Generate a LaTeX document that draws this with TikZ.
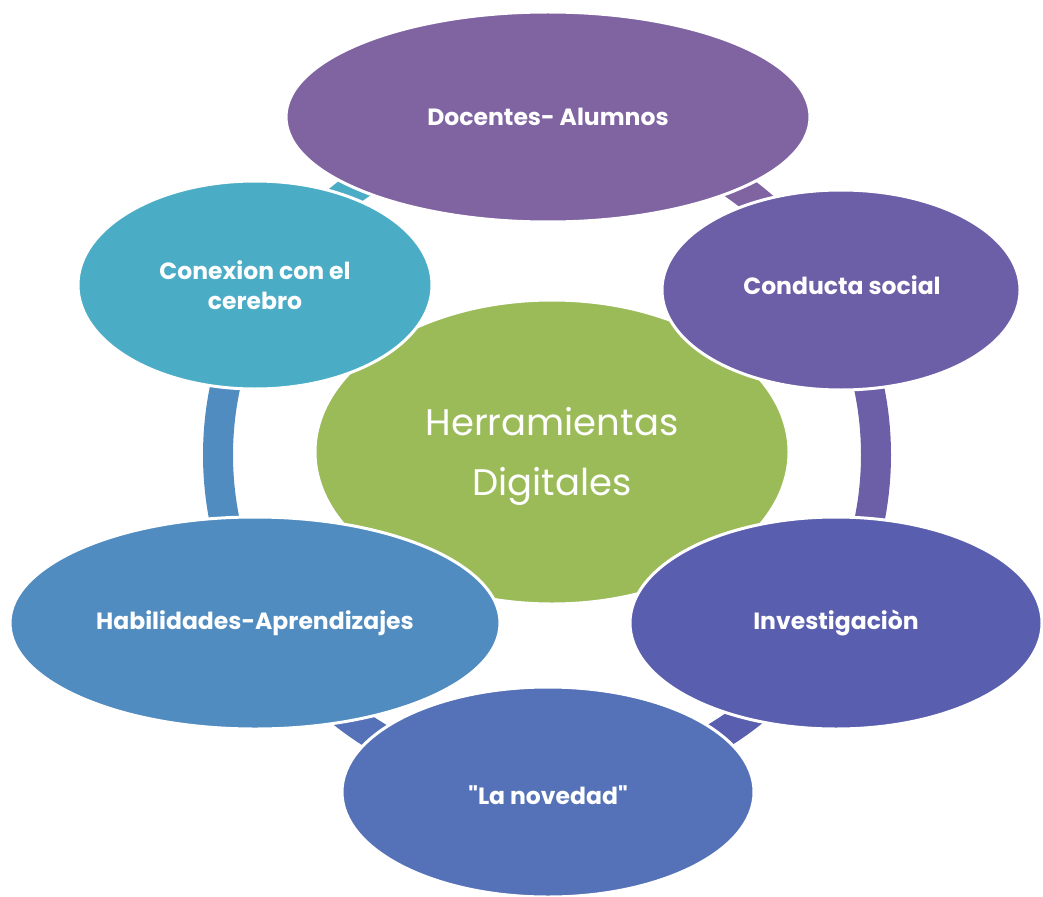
\documentclass[tikz,border=0pt]{standalone}
\usepackage{fontspec}
\setmainfont{Poppins}
\newfontfamily\rawfont{Poppins}
\usetikzlibrary{shapes.geometric}
\definecolor{cgreen}{HTML}{9BBB59}
\definecolor{cdoc}{HTML}{8064A2}
\definecolor{ccond}{HTML}{6C5FA7}
\definecolor{cinv}{HTML}{5A5EAE}
\definecolor{cnov}{HTML}{5572B8}
\definecolor{chab}{HTML}{508CC0}
\definecolor{ccon}{HTML}{4BACC6}
\tikzset{
  lbl/.style={text=white, font=\fontsize{23.5}{30}\selectfont\bfseries, align=center},
  blob/.style={ellipse, draw=white, line width=3pt, inner sep=0pt, lbl},
  ringseg/.style={line width=30pt, line cap=butt},
}
\begin{document}
\begin{tikzpicture}[x=1pt,y=-1pt]
\useasboundingbox (0,0) rectangle (1043,896);
\coordinate (c) at (547,455);
% ring segments (drawn behind)
\draw[ringseg, cdoc]  ([shift={(-90:329)}]c) arc[start angle=-90, end angle=-30, radius=329];
\draw[ringseg, ccond] ([shift={(-30:329)}]c) arc[start angle=-30, end angle=30, radius=329];
\draw[ringseg, cinv]  ([shift={(30:329)}]c) arc[start angle=30, end angle=90, radius=329];
\draw[ringseg, cnov]  ([shift={(90:329)}]c) arc[start angle=90, end angle=150, radius=329];
\draw[ringseg, chab]  ([shift={(150:329)}]c) arc[start angle=150, end angle=210, radius=329];
\draw[ringseg, ccon]  ([shift={(210:329)}]c) arc[start angle=210, end angle=270, radius=329];
% centre
\node[blob, fill=cgreen, minimum width=474pt, minimum height=304pt] (center) at (552,452) {};
\node[text=white, font=\fontsize{37}{60}\selectfont, align=center] (centert) at (552,456) {Herramientas\\Digitales};
% outer nodes
\node[blob, fill=cdoc,  minimum width=524pt, minimum height=210pt] (doc) at (548,117) {Docentes-\ Alumnos};
\node[blob, fill=ccond, minimum width=358pt, minimum height=200pt] (cond) at (841,290) {};
\node[lbl] (condt) at (842,285) {Conducta social};
\node[blob, fill=cinv,  minimum width=412pt, minimum height=212pt] (inv) at (836,623) {Investigaciòn};
\node[blob, fill=cnov,  minimum width=412pt, minimum height=210pt] (nov) at (548,792) {};
\node[lbl] (novt) at (548,795) {\rawfont\bfseries "La novedad"};
\node[blob, fill=chab,  minimum width=490pt, minimum height=212pt] (hab) at (255,623) {Habilidades-Aprendizajes};
\node[blob, fill=ccon,  minimum width=354pt, minimum height=208pt] (con) at (255,285) {Conexion con el\\cerebro};
\end{tikzpicture}
\end{document}
